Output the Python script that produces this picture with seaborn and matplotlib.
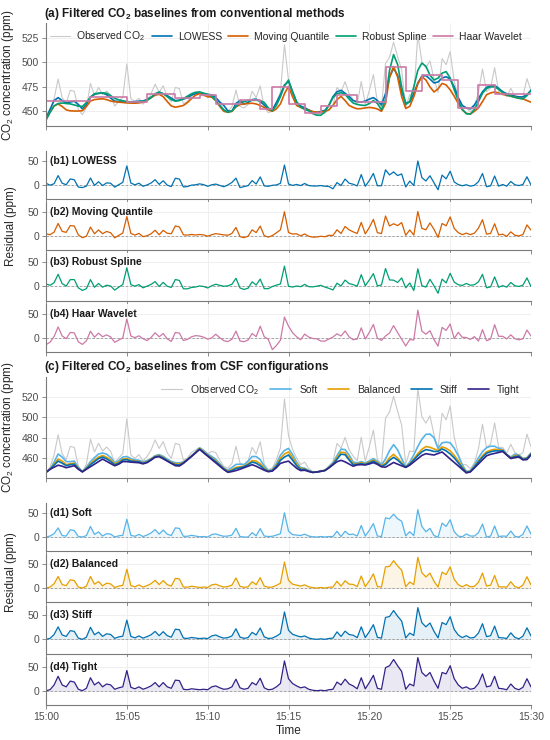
import numpy as np
import pandas as pd
import matplotlib
matplotlib.use("Agg")
import matplotlib.pyplot as plt
import matplotlib.dates as mdates
import seaborn as sns

sns.set_theme(style="ticks")
plt.rcParams['font.family'] = ['Liberation Sans', 'DejaVu Sans']
plt.rcParams['mathtext.fontset'] = 'custom'
plt.rcParams['mathtext.rm'] = 'Liberation Sans'
plt.rcParams['mathtext.bf'] = 'Liberation Sans:bold'

# 15 s samples, 15:00:00 -> 15:30:00 (121 points)
times = pd.date_range("2024-01-01 15:00:00", "2024-01-01 15:30:00", freq="15s")
tick_labels = ["15:00", "15:05", "15:10", "15:15", "15:20", "15:25", "15:30"]

observed = [
    446.0, 451.0, 463.0, 483.0, 464.0, 458.5, 471.5, 470.5, 452.0, 446.5, 454.0, 478.5,
    466.0, 474.5, 467.0, 470.8, 466.6, 455.4, 460.0, 464.5, 498.5, 463.0, 459.7, 463.4,
    457.3, 461.5, 468.0, 477.8, 469.4, 476.2, 465.0, 459.7, 474.5, 473.2, 457.8, 460.2,
    465.6, 468.0, 470.5, 468.2, 463.9, 466.6, 465.3, 458.0, 451.7, 450.0, 454.7, 471.7,
    455.0, 453.5, 457.0, 470.5, 464.0, 476.0, 454.0, 448.6, 450.2, 458.5, 469.8, 518.0,
    482.0, 468.5, 460.0, 453.7, 456.0, 449.8, 446.8, 446.3, 448.0, 447.8, 452.3, 456.4,
    474.4, 469.8, 480.3, 468.1, 462.0, 457.3, 480.5, 457.2, 471.2, 487.5, 458.8, 454.4,
    499.0, 505.3, 520.7, 506.0, 492.4, 453.8, 467.0, 466.2, 528.4, 500.6, 494.3, 501.6,
    483.0, 469.5, 504.0, 497.6, 511.1, 480.7, 464.3, 453.8, 453.4, 449.4, 455.3, 469.3,
    493.3, 470.2, 473.7, 494.6, 470.5, 470.4, 465.0, 473.5, 465.4, 463.0, 465.2, 483.5,
    471.0]

lowess = [
    443.0, 452.0, 461.0, 464.0, 461.0, 458.5, 459.5, 460.3, 457.0, 452.5, 457.0, 464.5,
    467.5, 468.3, 468.8, 467.0, 463.5, 460.5, 460.0, 459.6, 459.4, 459.6, 460.0, 460.3,
    460.6, 462.0, 464.5, 467.3, 468.8, 468.0, 466.0, 463.5, 461.0, 461.5, 462.5, 464.0,
    466.5, 468.2, 468.8, 468.0, 467.3, 466.8, 464.0, 459.5, 456.0, 450.5, 450.0, 458.0,
    461.0, 457.5, 459.0, 462.0, 462.5, 459.8, 456.5, 452.0, 451.5, 459.0, 467.0, 477.0,
    480.5, 470.0, 459.5, 455.5, 453.5, 451.5, 449.5, 449.0, 449.8, 451.0, 456.0, 465.0,
    470.0, 471.5, 468.5, 465.0, 461.0, 459.8, 459.4, 460.5, 462.5, 464.0, 461.0, 456.5,
    468.0, 485.0, 494.0, 487.0, 470.0, 458.5, 459.5, 468.0, 479.0, 486.0, 486.5, 483.0,
    479.0, 480.0, 484.0, 485.4, 483.0, 475.0, 464.0, 456.0, 453.5, 452.5, 456.5, 463.0,
    470.0, 474.5, 476.0, 476.5, 473.5, 470.0, 468.0, 466.8, 465.5, 464.8, 464.7, 467.0,
    471.5]

moving_quantile = [
    442.0, 449.0, 455.5, 457.5, 455.0, 451.5, 450.5, 450.3, 450.3, 450.7, 455.0, 460.5,
    462.0, 462.5, 462.8, 462.0, 460.5, 459.8, 459.4, 459.0, 458.6, 458.4, 458.3, 458.6,
    459.4, 461.5, 464.0, 466.5, 467.4, 465.0, 460.0, 455.5, 454.2, 455.0, 456.0, 459.0,
    463.0, 466.5, 468.0, 466.5, 465.0, 464.5, 461.0, 455.0, 450.0, 449.0, 450.0, 454.5,
    457.0, 457.5, 458.0, 458.3, 457.5, 456.0, 454.0, 451.5, 450.0, 452.5, 457.6, 468.0,
    475.5, 465.0, 456.0, 454.0, 452.4, 451.0, 449.8, 449.0, 449.2, 450.0, 451.4, 456.0,
    462.0, 465.3, 461.0, 456.0, 454.0, 452.6, 452.8, 453.5, 454.0, 453.5, 452.4, 450.0,
    458.0, 485.0, 495.8, 485.0, 465.0, 453.0, 455.0, 465.0, 478.0, 485.4, 482.0, 475.0,
    469.8, 473.0, 478.5, 477.0, 472.0, 465.5, 458.0, 451.5, 448.0, 447.2, 450.0, 453.5,
    460.0, 467.0, 468.8, 469.8, 468.8, 467.3, 466.3, 465.5, 464.5, 463.5, 462.8, 461.0,
    459.4]

robust_spline = [
    441.0, 449.0, 455.5, 458.0, 458.5, 458.0, 457.6, 456.5, 455.3, 455.0, 459.0, 464.5,
    468.0, 468.5, 468.8, 468.5, 466.0, 463.3, 461.8, 460.8, 460.0, 459.6, 459.4, 459.8,
    460.5, 461.2, 464.0, 468.0, 469.8, 468.0, 465.0, 462.0, 460.4, 461.0, 463.0, 465.5,
    468.0, 469.5, 469.8, 468.6, 467.4, 465.5, 461.0, 456.0, 451.5, 449.0, 450.5, 455.0,
    458.5, 460.0, 461.0, 461.2, 461.3, 461.0, 459.0, 453.5, 450.7, 456.0, 465.0, 476.0,
    482.0, 470.0, 459.4, 454.5, 452.0, 450.5, 448.0, 446.0, 446.0, 449.5, 456.5, 464.0,
    468.0, 469.0, 467.4, 462.5, 458.5, 457.0, 456.3, 456.0, 458.0, 461.0, 458.0, 451.5,
    462.0, 492.0, 508.0, 498.0, 475.0, 457.0, 460.0, 475.0, 492.0, 499.3, 496.0, 487.0,
    482.0, 484.0, 489.0, 490.6, 484.0, 472.0, 461.0, 452.0, 447.5, 447.2, 452.0, 460.0,
    468.5, 473.3, 475.0, 475.0, 472.5, 469.0, 466.8, 465.5, 464.3, 463.3, 462.8, 466.0,
    471.5]

haar_wavelet = [
    460.5, 460.5, 460.5, 460.5, 460.5, 460.5, 460.5, 460.5, 460.5, 460.5, 460.5, 465.0,
    465.0, 465.0, 465.0, 465.0, 465.0, 465.0, 465.0, 465.0, 459.5, 459.5, 459.5, 459.5,
    459.5, 467.5, 467.5, 467.5, 467.5, 467.5, 467.5, 467.5, 463.7, 463.7, 463.7, 463.7,
    463.7, 463.7, 467.0, 467.0, 467.0, 467.0, 458.0, 458.0, 458.0, 458.0, 458.0, 458.0,
    461.8, 461.8, 461.8, 461.8, 461.8, 452.0, 452.0, 452.0, 475.0, 475.0, 475.0, 475.0,
    458.0, 458.0, 458.0, 458.0, 448.5, 448.5, 448.5, 448.5, 455.0, 455.0, 455.0, 455.0,
    466.3, 466.3, 466.3, 466.3, 466.3, 460.0, 460.0, 460.0, 460.0, 460.0, 460.0, 460.0,
    495.5, 495.5, 495.5, 495.5, 495.5, 471.0, 471.0, 471.0, 471.0, 487.0, 487.0, 487.0,
    487.0, 487.0, 482.5, 482.5, 482.5, 482.5, 453.0, 453.0, 453.0, 453.0, 453.0, 476.5,
    476.5, 476.5, 476.5, 467.5, 467.5, 467.5, 467.5, 467.5, 467.5, 467.5, 467.5, 467.5,
    467.5]

csf_soft = [
    446.0, 449.0, 456.0, 464.0, 461.0, 456.5, 456.5, 457.0, 451.0, 446.5, 451.0, 456.5,
    460.5, 464.0, 465.0, 463.8, 460.6, 455.4, 457.5, 461.0, 461.5, 459.5, 458.2, 457.9,
    456.3, 457.5, 459.5, 462.3, 463.4, 461.7, 459.0, 456.7, 455.5, 455.2, 456.3, 458.7,
    462.1, 466.0, 470.0, 467.2, 463.9, 461.6, 458.8, 454.5, 450.2, 448.0, 450.7, 453.7,
    454.0, 453.5, 457.0, 461.5, 461.5, 458.5, 452.0, 447.6, 448.7, 454.5, 462.8, 467.5,
    469.5, 463.5, 456.0, 450.7, 450.0, 447.8, 446.3, 446.3, 447.0, 447.8, 451.3, 455.4,
    462.4, 468.8, 468.3, 463.1, 456.0, 455.3, 456.5, 455.2, 457.2, 459.5, 456.8, 453.4,
    459.0, 467.3, 473.2, 468.0, 459.4, 451.3, 456.0, 463.2, 471.4, 478.6, 483.3, 483.6,
    480.0, 469.5, 475.0, 475.6, 475.1, 469.7, 462.3, 453.3, 446.9, 447.4, 453.3, 460.3,
    466.3, 470.2, 471.7, 471.6, 469.5, 468.4, 463.5, 461.0, 463.9, 463.0, 459.7, 460.5,
    465.0]

csf_balanced = [
    446.0, 449.0, 454.0, 459.0, 457.0, 453.5, 454.5, 455.0, 450.0, 446.5, 450.0, 454.5,
    458.0, 461.0, 462.5, 460.8, 458.1, 454.4, 456.0, 459.0, 459.5, 458.0, 457.2, 456.9,
    455.3, 456.5, 459.0, 461.8, 462.4, 460.7, 458.0, 455.7, 454.5, 454.2, 455.8, 458.5,
    461.9, 465.5, 469.5, 466.2, 462.9, 460.1, 457.3, 453.5, 449.7, 447.0, 448.7, 450.7,
    451.5, 452.0, 454.5, 457.5, 457.0, 454.5, 450.0, 447.1, 448.2, 453.0, 459.8, 464.0,
    466.0, 460.5, 454.0, 449.7, 449.5, 447.3, 446.1, 446.3, 447.0, 447.8, 450.8, 454.4,
    460.4, 465.8, 465.3, 460.1, 454.5, 454.3, 455.5, 454.2, 456.2, 458.0, 455.8, 452.4,
    455.0, 460.3, 463.7, 460.0, 455.4, 451.1, 454.5, 459.2, 464.4, 468.6, 471.3, 470.6,
    469.0, 467.5, 471.0, 469.6, 467.1, 462.7, 457.3, 451.3, 446.4, 446.9, 451.8, 457.3,
    462.3, 466.2, 467.7, 468.6, 468.0, 467.9, 463.3, 460.5, 462.4, 462.5, 459.2, 460.0,
    464.5]

csf_stiff = [
    446.0, 449.0, 453.0, 457.0, 455.0, 452.5, 453.5, 454.0, 449.5, 446.5, 449.5, 453.5,
    456.5, 459.5, 461.0, 459.3, 456.6, 453.4, 455.0, 458.0, 458.5, 457.0, 456.7, 456.4,
    454.8, 456.0, 458.5, 461.3, 461.9, 460.2, 457.5, 455.2, 453.5, 453.2, 455.3, 458.4,
    461.8, 465.3, 469.0, 465.7, 462.4, 459.6, 456.3, 453.0, 449.2, 446.5, 447.7, 449.7,
    450.5, 451.5, 453.5, 456.0, 455.0, 452.5, 449.0, 446.9, 447.7, 452.0, 457.8, 461.0,
    463.0, 458.0, 452.5, 448.7, 449.0, 447.1, 446.0, 446.3, 447.0, 447.8, 450.6, 453.9,
    458.9, 463.8, 463.3, 458.1, 453.5, 453.8, 454.5, 453.7, 455.2, 457.0, 454.8, 451.9,
    453.5, 457.8, 460.7, 458.0, 454.4, 451.0, 454.0, 458.2, 462.4, 466.1, 468.3, 467.6,
    466.5, 466.5, 469.0, 467.1, 464.1, 460.2, 455.3, 450.3, 445.9, 446.7, 451.3, 456.3,
    460.8, 464.7, 466.2, 467.1, 467.0, 467.4, 463.2, 460.0, 461.4, 462.0, 458.7, 459.5,
    464.0]

csf_tight = [
    446.0, 449.0, 451.0, 453.0, 452.0, 450.5, 451.5, 452.5, 449.0, 446.5, 449.0, 451.5,
    454.0, 456.5, 459.0, 456.8, 454.6, 452.4, 454.0, 456.5, 456.5, 456.0, 455.7, 455.4,
    454.3, 455.5, 458.0, 460.8, 461.4, 459.2, 457.0, 454.7, 452.5, 452.2, 454.8, 458.2,
    461.6, 465.0, 468.5, 465.2, 461.9, 458.6, 455.3, 452.0, 448.7, 446.0, 446.7, 447.7,
    449.0, 450.5, 452.0, 453.5, 452.0, 450.0, 448.0, 446.6, 447.2, 450.5, 454.8, 456.0,
    457.0, 453.5, 450.0, 447.7, 448.0, 446.8, 445.8, 446.3, 447.0, 447.8, 450.3, 453.4,
    456.4, 457.8, 456.3, 454.1, 452.0, 453.3, 453.5, 453.2, 454.2, 455.5, 453.8, 451.4,
    451.0, 453.3, 455.7, 454.0, 452.4, 450.8, 453.0, 456.2, 459.4, 462.6, 464.3, 463.6,
    463.0, 464.5, 466.0, 462.6, 459.1, 455.7, 452.3, 448.8, 445.4, 446.4, 450.3, 454.3,
    458.3, 462.2, 463.7, 464.6, 465.5, 466.4, 463.0, 459.5, 460.4, 461.0, 458.2, 458.5,
    463.0]

conv_names = ["LOWESS", "Moving Quantile", "Robust Spline", "Haar Wavelet"]
conv_series = [lowess, moving_quantile, robust_spline, haar_wavelet]
conv_colors = ["#0072B2", "#D55E00", "#009E73", "#CC79A7"]
csf_names = ["Soft", "Balanced", "Stiff", "Tight"]
csf_series = [csf_soft, csf_balanced, csf_stiff, csf_tight]
csf_colors = ["#56B4E9", "#E69F00", "#0072B2", "#332288"]
obs_color = "#C9C9C9"
obs = np.array(observed)

W, H = 550, 740
fig = plt.figure(figsize=(5.5, 7.4), dpi=100)


def add_ax(top, bottom):
    return fig.add_axes([46 / W, 1 - bottom / H, 485 / W, (bottom - top) / H])


def style(ax, show_x=False):
    for s in ["top", "right"]:
        ax.spines[s].set_visible(False)
    for s in ["left", "bottom"]:
        ax.spines[s].set_color("#7A7A7A")
        ax.spines[s].set_linewidth(0.8)
    ax.set_xlim(times[0], times[-1])
    ax.xaxis.set_major_locator(mdates.MinuteLocator(byminute=range(0, 60, 5)))
    ax.xaxis.set_major_formatter(mdates.DateFormatter("%H:%M"))
    ax.grid(True, color="#EDEDED", lw=0.6)
    ax.set_axisbelow(True)
    ax.tick_params(length=3, width=0.6, color="#7A7A7A", labelsize=7.5,
                   labelcolor="#4D4D4D", pad=2)
    ax.set_xlabel("")
    ax.set_ylabel("")
    if not show_x:
        ax.tick_params(labelbottom=False)


# (a) conventional baselines
ax_a = add_ax(23.3, 126)
sns.lineplot(x=times, y=observed, ax=ax_a, color=obs_color, lw=0.8, label="Observed CO$_2$")
for name, ser, col in zip(conv_names, conv_series, conv_colors):
    kw = {"drawstyle": "steps-post"} if name == "Haar Wavelet" else {}
    sns.lineplot(x=times, y=ser, ax=ax_a, color=col, lw=1.2, label=name, **kw)
style(ax_a)
ax_a.set_ylim(435, 540)
ax_a.set_yticks([450, 475, 500, 525])
ax_a.legend(loc="upper center", bbox_to_anchor=(0.495, 1.0), ncol=5, frameon=False,
            fontsize=7.5, handlelength=1.9, handletextpad=0.6, columnspacing=0.6,
            borderaxespad=0.2)
ax_a.set_ylabel("CO$_2$ concentration (ppm)", fontsize=8.5, color="#262626")
ax_a.yaxis.set_label_coords(-0.061, 0.5)

# (b) residuals of conventional baselines
b_rows = [(151.1, 199.1), (202.1, 250.1), (252.7, 300.7), (304.1, 352.1)]
for k, ((top, bot), name, ser, col) in enumerate(zip(b_rows, conv_names, conv_series, conv_colors)):
    ax = add_ax(top, bot)
    resid = obs - np.array(ser)
    ax.axhline(0, color="#9A9A9A", lw=0.6, ls=(0, (3, 2)))
    sns.lineplot(x=times, y=resid, ax=ax, color=col, lw=0.9, legend=False)
    style(ax)
    ax.set_ylim(-30, 70)
    ax.set_yticks([0, 50])
    ax.text(0.008, 0.8, f"(b{k + 1}) {name}", transform=ax.transAxes, fontsize=7.5,
            fontweight="bold", color="#1A1A1A", va="center")

# (c) CSF baselines
ax_c = add_ax(376.7, 478.4)
sns.lineplot(x=times, y=observed, ax=ax_c, color=obs_color, lw=0.8, label="Observed CO$_2$")
for name, ser, col in zip(csf_names, csf_series, csf_colors):
    sns.lineplot(x=times, y=ser, ax=ax_c, color=col, lw=1.2, label=name)
style(ax_c)
ax_c.set_ylim(440, 540)
ax_c.set_yticks([460, 480, 500, 520])
ax_c.legend(loc="upper right", bbox_to_anchor=(0.99, 1.0), ncol=5, frameon=False,
            fontsize=7.5, handlelength=2.0, handletextpad=0.8, columnspacing=1.0,
            borderaxespad=0.2)
ax_c.set_ylabel("CO$_2$ concentration (ppm)", fontsize=8.5, color="#262626")
ax_c.yaxis.set_label_coords(-0.061, 0.5)

# (d) residuals of CSF baselines
d_rows = [(503.4, 551.4), (554.4, 602.4), (605.7, 653.7), (657.1, 705.1)]
for k, ((top, bot), name, ser, col) in enumerate(zip(d_rows, csf_names, csf_series, csf_colors)):
    ax = add_ax(top, bot)
    resid = obs - np.array(ser)
    ax.axhline(0, color="#9A9A9A", lw=0.6, ls=(0, (3, 2)))
    ax.fill_between(times, resid, 0, color=col, alpha=0.1, lw=0)
    sns.lineplot(x=times, y=resid, ax=ax, color=col, lw=0.9, legend=False)
    style(ax, show_x=(k == 3))
    ax.set_ylim(-30, 70)
    ax.set_yticks([0, 50])
    ax.text(0.008, 0.8, f"(d{k + 1}) {name}", transform=ax.transAxes, fontsize=7.5,
            fontweight="bold", color="#1A1A1A", va="center")
    if k == 3:
        ax.set_xticks(pd.to_datetime(["2024-01-01 " + s for s in tick_labels]))
        ax.set_xticklabels(tick_labels)
        ax.set_xlabel("Time", fontsize=8.5, color="#262626", labelpad=2)

fig.text(44 / W, 1 - 14 / H, r"(a) Filtered CO$_\mathbf{2}$ baselines from conventional methods",
         fontsize=8.5, fontweight="bold", color="#1A1A1A", va="center", ha="left")
fig.text(44 / W, 1 - 366.7 / H, r"(c) Filtered CO$_\mathbf{2}$ baselines from CSF configurations",
         fontsize=8.5, fontweight="bold", color="#1A1A1A", va="center", ha="left")
fig.text(11 / W, 1 - 226 / H, "Residual (ppm)", rotation=90, fontsize=8.5, color="#262626",
         va="center", ha="center")
fig.text(11 / W, 1 - 572 / H, "Residual (ppm)", rotation=90, fontsize=8.5, color="#262626",
         va="center", ha="center")

fig.savefig("out.png", dpi=100)
